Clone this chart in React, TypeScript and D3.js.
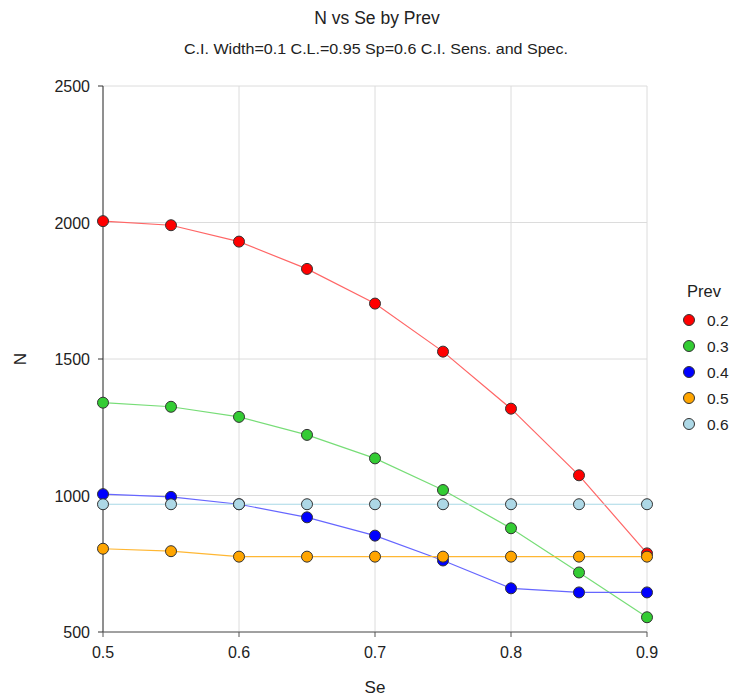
import React from "react";
import * as d3 from "d3";

const seValues = [0.5, 0.55, 0.6, 0.65, 0.7, 0.75, 0.8, 0.85, 0.9];
const prevLabels = ["0.2", "0.3", "0.4", "0.5", "0.6"];
const colors = ["#ff0000", "#33cc33", "#0000ff", "#ffa500", "#add8e6"];
const lineColors = ["#ff6666", "#77dd77", "#6666ff", "#ffb733", "#a8d8e6"];
const nPrev02 = [2005, 1990, 1930, 1830, 1703, 1527, 1318, 1074, 788];
const nPrev03 = [1340, 1325, 1288, 1222, 1136, 1020, 880, 718, 554];
const nPrev04 = [1005, 995, 968, 920, 853, 762, 660, 645, 645];
const nPrev05 = [805, 796, 776, 776, 776, 776, 776, 776, 776];
const nPrev06 = [968, 968, 968, 968, 968, 968, 968, 968, 968];
const series = [nPrev02, nPrev03, nPrev04, nPrev05, nPrev06];
const xTicks = [0.5, 0.6, 0.7, 0.8, 0.9];
const yTicks = [500, 1000, 1500, 2000, 2500];

export default function App() {
  const W = 734, H = 700;
  const left = 103, right = 647, top = 86, bottom = 632;
  const x = d3.scaleLinear().domain([0.5, 0.9]).range([left, right]);
  const y = d3.scaleLinear().domain([500, 2500]).range([bottom, top]);
  const line = d3.line<number>().x((_, i) => x(seValues[i])).y((d) => y(d));
  const font = "'Liberation Sans', Arial, sans-serif";
  return (
    <svg width={W} height={H} style={{ position: "absolute", left: 0, top: 0 }} fontFamily={font}>
      <rect width={W} height={H} fill="#fff" />
      <text x={377} y={24} textAnchor="middle" fontSize={17.5} fill="#222">N vs Se by Prev</text>
      <text x={376} y={54} textAnchor="middle" fontSize={15.5} fill="#222" textLength={384} lengthAdjust="spacingAndGlyphs">C.I. Width=0.1 C.L.=0.95 Sp=0.6 C.I. Sens. and Spec.</text>
      {xTicks.map((t) => (
        <line key={"gx" + t} x1={x(t)} x2={x(t)} y1={top} y2={bottom} stroke="#dcdcdc" strokeWidth={1} />
      ))}
      {yTicks.map((t) => (
        <line key={"gy" + t} x1={left} x2={right} y1={y(t)} y2={y(t)} stroke="#dcdcdc" strokeWidth={1} />
      ))}
      <line x1={left} x2={left} y1={top} y2={bottom} stroke="#333" strokeWidth={1} />
      <line x1={left} x2={right} y1={bottom} y2={bottom} stroke="#555" strokeWidth={1} />
      {yTicks.map((t) => (
        <g key={"ty" + t}>
          <line x1={left - 5} x2={left} y1={y(t)} y2={y(t)} stroke="#333" />
          <text x={left - 13} y={y(t) + 6} textAnchor="end" fontSize={16} fill="#222">{t}</text>
        </g>
      ))}
      {xTicks.map((t) => (
        <g key={"tx" + t}>
          <line x1={x(t)} x2={x(t)} y1={bottom} y2={bottom + 5} stroke="#555" />
          <text x={x(t)} y={bottom + 26} textAnchor="middle" fontSize={16} fill="#222">{t.toFixed(1)}</text>
        </g>
      ))}
      <text x={375} y={693} textAnchor="middle" fontSize={17} fill="#222">Se</text>
      <text transform={`translate(26,${(top + bottom) / 2}) rotate(-90)`} textAnchor="middle" fontSize={17} fill="#222">N</text>
      {series.map((s, si) => (
        <g key={"s" + si}>
          <path d={line(s) || ""} fill="none" stroke={lineColors[si]} strokeWidth={1.2} />
          {s.map((v, i) => (
            <circle key={i} cx={x(seValues[i])} cy={y(v)} r={5.5} fill={colors[si]} stroke="#333" strokeWidth={1} />
          ))}
        </g>
      ))}
      <text x={704} y={297} textAnchor="middle" fontSize={16.5} fill="#222">Prev</text>
      {prevLabels.map((p, i) => (
        <g key={"lg" + p}>
          <circle cx={689} cy={320 + i * 26} r={5.5} fill={colors[i]} stroke="#333" strokeWidth={1} />
          <text x={707} y={326 + i * 26} fontSize={15.5} fill="#222">{p}</text>
        </g>
      ))}
    </svg>
  );
}
